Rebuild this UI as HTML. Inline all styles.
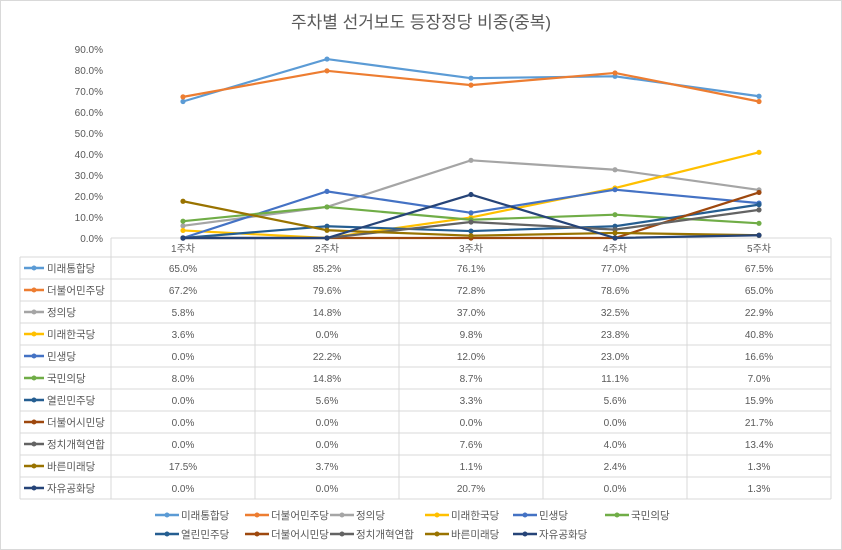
<!DOCTYPE html><html><head><meta charset="utf-8"><style>body{margin:0;background:#fff}svg{display:block;font-family:"Liberation Sans","Noto Sans CJK KR",sans-serif}</style></head><body>
<svg id="s" width="842" height="550" xmlns="http://www.w3.org/2000/svg"></svg>
<script>
const s=document.getElementById('s');
const names=["미래통합당","더불어민주당","정의당","미래한국당","민생당","국민의당","열린민주당","더불어시민당","정치개혁연합","바른미래당","자유공화당"];
const cols=["#5B9BD5","#ED7D31","#A5A5A5","#FFC000","#4472C4","#70AD47","#255E91","#9E480E","#636363","#997300","#264478"];
const d=[[65,85.2,76.1,77,67.5],[67.2,79.6,72.8,78.6,65],[5.8,14.8,37,32.5,22.9],[3.6,0,9.8,23.8,40.8],[0,22.2,12,23,16.6],[8,14.8,8.7,11.1,7],[0,5.6,3.3,5.6,15.9],[0,0,0,0,21.7],[0,0,7.6,4,13.4],[17.5,3.7,1.1,2.4,1.3],[0,0,20.7,0,1.3]];
let h='<rect x="0.5" y="0.5" width="841" height="549" fill="#fff" stroke="#d9d9d9"/>';
h+='<text x="421" y="28" font-size="17" fill="#595959" text-anchor="middle">주차별 선거보도 등장정당 비중(중복)</text>';
const Y=v=>238-v*2.1, X=i=>183+i*144;
for(let k=0;k<=9;k++){h+=`<text x="103" y="${Y(k*10)+4}" font-size="10" fill="#595959" text-anchor="end">${(k*10).toFixed(1)}%</text>`;}
h+='<line x1="111" y1="238" x2="831" y2="238" stroke="#d9d9d9"/>';
const r0=257,rh=22.0;
for(let c=0;c<=5;c++){const x=111+c*144;h+=`<line x1="${x}" y1="238" x2="${x}" y2="${r0+11*rh}" stroke="#d9d9d9"/>`;}
h+=`<line x1="20" y1="${r0}" x2="20" y2="${r0+11*rh}" stroke="#d9d9d9"/>`;
for(let r=0;r<=11;r++){const y=r0+r*rh;h+=`<line x1="20" y1="${y}" x2="831" y2="${y}" stroke="#d9d9d9"/>`;}
for(let i=0;i<5;i++)h+=`<text x="${X(i)}" y="252" font-size="10" fill="#595959" text-anchor="middle">${i+1}주차</text>`;
d.forEach((row,r)=>{const y=r0+r*rh+rh/2+4;
h+=`<line x1="24" y1="${y-4}" x2="44" y2="${y-4}" stroke="${cols[r]}" stroke-width="2.5"/><circle cx="34" cy="${y-4}" r="2.5" fill="${cols[r]}"/>`;
h+=`<text x="47" y="${y}" font-size="10.5" fill="#595959">${names[r]}</text>`;
row.forEach((v,i)=>h+=`<text x="${X(i)}" y="${y}" font-size="10" fill="#595959" text-anchor="middle">${v.toFixed(1)}%</text>`);});
d.forEach((row,r)=>{h+=`<polyline fill="none" stroke="${cols[r]}" stroke-width="2.2" points="${row.map((v,i)=>X(i)+','+Y(v)).join(' ')}"/>`;
row.forEach((v,i)=>h+=`<circle cx="${X(i)}" cy="${Y(v)}" r="2.6" fill="${cols[r]}"/>`);});
const lx=[155,245,330,425,513,605];
names.forEach((n,i)=>{const x=lx[i%6],y=i<6?515:534;
h+=`<line x1="${x}" y1="${y}" x2="${x+24}" y2="${y}" stroke="${cols[i]}" stroke-width="2.5"/><circle cx="${x+12}" cy="${y}" r="2.5" fill="${cols[i]}"/><text x="${x+26}" y="${y+4}" font-size="10.5" fill="#595959">${n}</text>`;});
s.innerHTML=h;
</script></body></html>
